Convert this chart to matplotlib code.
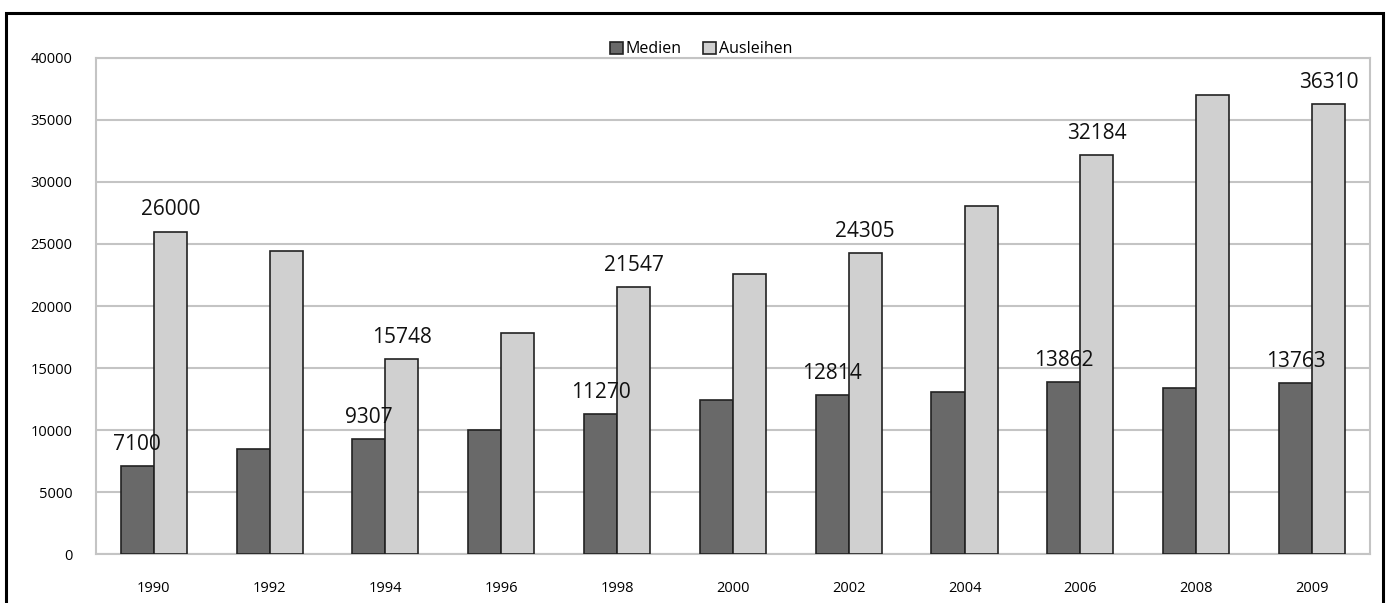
import numpy as np
import matplotlib.pyplot as plt
from matplotlib.patches import Rectangle

# Daten
jahre = ["1990", "1992", "1994", "1996", "1998", "2000", "2002", "2004", "2006", "2008", "2009"]
medien = [7100, 8500, 9307, 10000, 11270, 12450, 12814, 13100, 13862, 13400, 13763]
ausleihen = [26000, 24460, 15748, 17800, 21547, 22600, 24305, 28100, 32184, 37000, 36310]
# nur diese Jahre bekommen eine Beschriftung
beschriftet = ["1990", "1994", "1998", "2002", "2006", "2009"]

plt.rcParams['font.family'] = ['Open Sans', 'DejaVu Sans']

fig = plt.figure(figsize=(13.9, 6.03), dpi=100)
ax = fig.add_axes([0.069, 0.081, 0.9165, 0.823])

x = np.arange(len(jahre))
b = 0.285
ax.bar(x - b/2, medien, b, color='#696969', edgecolor='#222222', linewidth=1.2, label='Medien', zorder=3)
ax.bar(x + b/2, ausleihen, b, color='#d0d0d0', edgecolor='#222222', linewidth=1.2, label='Ausleihen', zorder=3)

for i, j in enumerate(jahre):
    if j in beschriftet:
        ax.annotate(str(medien[i]), (x[i] - b/2, medien[i]), xytext=(0, 8), textcoords='offset points',
                    ha='center', va='bottom', fontsize=15, color='#111111', zorder=4)
        ax.annotate(str(ausleihen[i]), (x[i] + b/2, ausleihen[i]), xytext=(0, 8), textcoords='offset points',
                    ha='center', va='bottom', fontsize=15, color='#111111', zorder=4)

ax.set_xlim(-0.5, len(jahre) - 0.5)
ax.set_ylim(0, 40000)
ax.set_yticks(range(0, 40001, 5000))
ax.set_xticks(x)
ax.set_xticklabels(jahre)
ax.tick_params(axis='y', length=0, pad=17, labelsize=10.5)
ax.tick_params(axis='x', length=0, pad=19, labelsize=10.5)
ax.grid(axis='y', color='#c4c4c4', linewidth=1.5, zorder=0)
for s in ax.spines.values():
    s.set_color('#c4c4c4')
    s.set_linewidth(1.5)

ax.legend(loc='lower center', bbox_to_anchor=(0.475, 0.985), ncol=2, frameon=False, fontsize=11.5,
          handlelength=0.8, handleheight=0.8, handletextpad=0.2, columnspacing=1.3, borderaxespad=0.1)

# Rahmen um das Diagramm
fig.patches.append(Rectangle((6/1390, -0.05), 1377/1390, 1.05 - 13/603, transform=fig.transFigure,
                             fill=False, edgecolor='black', linewidth=2.2))

fig.savefig('out.png', dpi=100)
